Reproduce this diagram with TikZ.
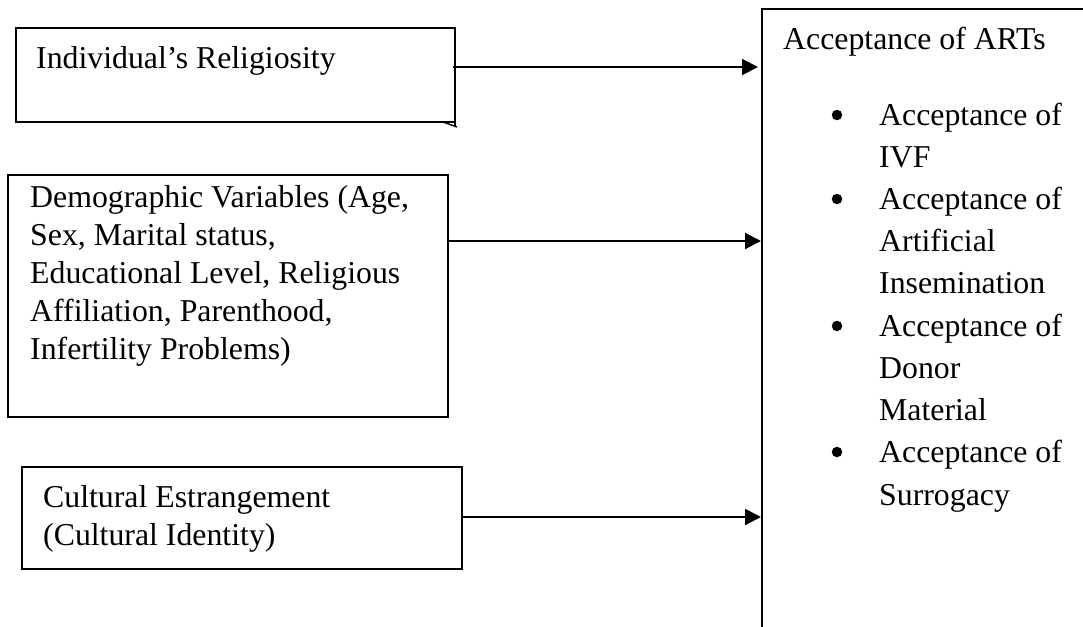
\documentclass[tikz,border=0pt]{standalone}
\usepackage{fontspec}
\setmainfont{Liberation Serif}
\usetikzlibrary{arrows.meta}
\begin{document}
\begin{tikzpicture}[x=1pt,y=-1pt,
  box/.style={draw, line width=1.6pt, rectangle, inner sep=0pt, outer sep=0pt},
  txt/.style={anchor=base west, inner sep=0pt, font=\fontsize{31.8}{38}\selectfont},
  bul/.style={circle, fill, inner sep=0pt, minimum size=10.5pt},
  arr/.style={-{Triangle[length=16pt,width=16pt]}, line width=2pt}]
\useasboundingbox (0,0) rectangle (1083,626);
% boxes
\node[box, minimum width=439pt, minimum height=94pt] (rel) at (235.5,75) {};
\node[box, minimum width=440pt, minimum height=242pt] (dem) at (228,296) {};
\node[box, minimum width=440pt, minimum height=102pt] (cul) at (242,518) {};
\node[box, minimum width=358pt, minimum height=651pt] (art) at (941,334.5) {};
% small fold at the corner of the first box
\draw[line width=1.6pt] (rel.south east) -- ++(0,5);
\draw[line width=1.4pt] ([xshift=-12pt]rel.south east) -- ([xshift=2pt,yshift=-5pt]rel.south east);
% texts
\node[txt] (t1) at (36,68) {Individual’s Religiosity};
\node[txt] (d1) at (30,207) {Demographic Variables (Age,};
\node[txt] (d2) at (30,245) {Sex, Marital status,};
\node[txt] (d3) at (30,283) {Educational Level, Religious};
\node[txt] (d4) at (30,321) {Affiliation, Parenthood,};
\node[txt] (d5) at (30,359) {Infertility Problems)};
\node[txt] (c1) at (43,507) {Cultural Estrangement};
\node[txt] (c2) at (43,545) {(Cultural Identity)};
\node[txt] (a0) at (783,50) {Acceptance of ARTs};
\node[bul] (b1) at (837,115) {};
\node[txt] (a1) at (879,125) {Acceptance of};
\node[txt] (a2) at (879,167) {IVF};
\node[bul] (b2) at (837,199) {};
\node[txt] (a3) at (879,209) {Acceptance of};
\node[txt] (a4) at (879,251) {Artificial};
\node[txt] (a5) at (879,293) {Insemination};
\node[bul] (b3) at (837,326) {};
\node[txt] (a6) at (879,336) {Acceptance of};
\node[txt] (a7) at (879,378) {Donor};
\node[txt] (a8) at (879,420) {Material};
\node[bul] (b4) at (837,452) {};
\node[txt] (a9) at (879,462) {Acceptance of};
\node[txt] (a10) at (879,505) {Surrogacy};
% connectors
\draw[arr, shorten <=-2pt, shorten >=4pt] (rel.east |- 0,67) -- (art.west |- 0,67);
\draw[arr, shorten >=1pt] (dem.east |- 0,241) -- (art.west |- 0,241);
\draw[arr, shorten >=1pt] (cul.east |- 0,517) -- (art.west |- 0,517);
\end{tikzpicture}
\end{document}
